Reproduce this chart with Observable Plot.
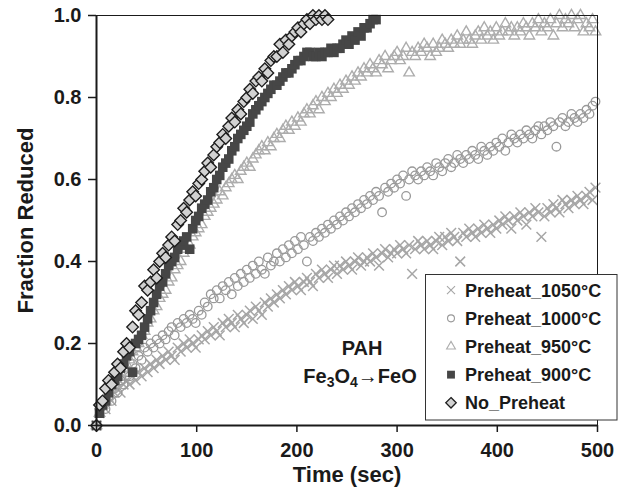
<!DOCTYPE html>
<html><head><meta charset="utf-8">
<script src="https://cdn.jsdelivr.net/npm/d3@7"></script>
<script src="https://cdn.jsdelivr.net/npm/@observablehq/plot@0.6"></script>
<style>
html,body{margin:0;padding:0;background:#fff;}
#chart{width:627px;height:497px;}
</style></head><body><div id="chart"></div>
<script>
// Sampling instants (sec)
const time = [0,3,6,9,12,15,18,21,24,27,
30,33,36,39,42,45,48,51,54,57,
60,63,66,69,72,75,78,81,84,87,
90,93,96,99,102,105,108,111,114,117,
120,123,126,129,132,135,138,141,144,147,
150,153,156,159,162,165,168,171,174,177,
180,183,186,189,192,195,198,201,204,207,
210,213,216,219,222,225,228,231,234,237,
240,243,246,249,252,255,258,261,264,267,
270,273,276,279,282,285,288,291,294,297,
300,303,306,309,312,315,318,321,324,327,
330,333,336,339,342,345,348,351,354,357,
360,363,366,369,372,375,378,381,384,387,
390,393,396,399,402,405,408,411,414,417,
420,423,426,429,432,435,438,441,444,447,
450,453,456,459,462,465,468,471,474,477,
480,483,486,489,492,495,498];

const seriesNames = ["Preheat_1050°C","Preheat_1000°C","Preheat_950°C","Preheat_900°C","No_Preheat"];

const preheat1050 = [0.00,0.03,0.05,0.04,0.07,0.06,0.08,0.09,0.08,0.10,
0.11,0.10,0.12,0.11,0.13,0.12,0.14,0.13,0.15,0.14,
0.16,0.15,0.17,0.16,0.18,0.17,0.16,0.19,0.18,0.20,
0.19,0.21,0.20,0.19,0.21,0.22,0.21,0.23,0.22,0.24,
0.23,0.22,0.25,0.24,0.26,0.25,0.24,0.27,0.26,0.25,
0.27,0.28,0.26,0.29,0.28,0.27,0.30,0.29,0.31,0.30,
0.32,0.31,0.33,0.32,0.34,0.33,0.35,0.34,0.33,0.35,
0.36,0.35,0.34,0.37,0.36,0.38,0.37,0.36,0.38,0.39,
0.37,0.39,0.38,0.40,0.39,0.38,0.40,0.41,0.39,0.40,
0.41,0.40,0.42,0.41,0.39,0.42,0.43,0.41,0.42,0.43,
0.42,0.44,0.43,0.42,0.44,0.37,0.43,0.45,0.44,0.43,
0.45,0.44,0.43,0.45,0.46,0.44,0.46,0.45,0.47,0.46,
0.45,0.40,0.47,0.46,0.48,0.47,0.46,0.48,0.47,0.49,
0.48,0.47,0.49,0.48,0.50,0.49,0.51,0.50,0.48,0.51,
0.50,0.52,0.51,0.49,0.52,0.51,0.53,0.52,0.46,0.51,
0.53,0.52,0.54,0.53,0.52,0.55,0.54,0.53,0.55,0.54,
0.56,0.55,0.54,0.56,0.57,0.55,0.58];

const preheat1000 = [0.00,0.04,0.05,0.04,0.07,0.06,0.09,0.08,0.11,0.10,
0.13,0.12,0.15,0.14,0.17,0.16,0.19,0.18,0.20,0.19,
0.21,0.20,0.22,0.21,0.23,0.24,0.22,0.25,0.24,0.26,
0.25,0.27,0.26,0.25,0.28,0.27,0.30,0.29,0.32,0.31,
0.33,0.31,0.34,0.33,0.35,0.32,0.36,0.34,0.37,0.35,
0.38,0.36,0.39,0.37,0.40,0.38,0.37,0.41,0.39,0.40,
0.42,0.40,0.43,0.41,0.44,0.42,0.45,0.43,0.46,0.44,
0.40,0.46,0.45,0.47,0.46,0.48,0.47,0.49,0.48,0.50,
0.49,0.51,0.50,0.52,0.51,0.53,0.52,0.54,0.53,0.55,
0.54,0.56,0.55,0.57,0.56,0.52,0.58,0.57,0.59,0.58,
0.60,0.59,0.61,0.56,0.60,0.62,0.61,0.60,0.62,0.61,
0.63,0.62,0.61,0.64,0.63,0.62,0.64,0.65,0.63,0.64,
0.66,0.65,0.64,0.66,0.65,0.67,0.66,0.65,0.68,0.67,
0.66,0.68,0.67,0.69,0.68,0.70,0.67,0.69,0.71,0.70,
0.69,0.71,0.70,0.72,0.71,0.70,0.72,0.73,0.71,0.73,
0.72,0.74,0.73,0.68,0.74,0.75,0.73,0.74,0.76,0.75,
0.74,0.76,0.75,0.77,0.76,0.78,0.79];

const preheat950 = [0.00,0.03,0.05,0.06,0.08,0.09,0.10,0.12,0.13,0.14,
0.15,0.16,0.18,0.19,0.20,0.22,0.23,0.25,0.26,0.28,
0.29,0.31,0.32,0.33,0.35,0.36,0.38,0.39,0.40,0.42,
0.43,0.44,0.46,0.47,0.48,0.49,0.51,0.52,0.53,0.54,
0.55,0.57,0.56,0.58,0.59,0.60,0.61,0.60,0.62,0.63,
0.64,0.63,0.65,0.66,0.67,0.68,0.67,0.69,0.68,0.70,
0.71,0.70,0.72,0.73,0.72,0.74,0.73,0.75,0.74,0.76,
0.77,0.76,0.78,0.79,0.77,0.80,0.79,0.81,0.80,0.82,
0.81,0.83,0.82,0.84,0.83,0.85,0.84,0.86,0.85,0.87,
0.86,0.88,0.87,0.86,0.89,0.88,0.90,0.87,0.89,0.90,
0.91,0.89,0.90,0.92,0.86,0.91,0.90,0.92,0.91,0.93,
0.92,0.90,0.93,0.91,0.92,0.94,0.93,0.92,0.94,0.93,
0.95,0.93,0.94,0.96,0.94,0.93,0.95,0.96,0.94,0.97,
0.95,0.96,0.94,0.97,0.95,0.96,0.98,0.96,0.97,0.95,
0.97,0.96,0.98,0.97,0.95,0.98,0.97,0.99,0.96,0.98,
0.97,0.99,0.95,0.98,1.00,0.97,0.99,0.98,1.00,0.97,
0.99,1.00,0.96,0.98,0.97,0.99,0.96];

const preheat900 = [0.00,0.03,0.05,0.06,0.08,0.10,0.11,0.12,0.14,0.15,
0.17,0.18,0.13,0.20,0.21,0.22,0.24,0.26,0.28,0.30,
0.32,0.34,0.35,0.37,0.39,0.40,0.41,0.43,0.44,0.45,
0.46,0.43,0.48,0.50,0.51,0.53,0.54,0.55,0.57,0.58,
0.60,0.61,0.63,0.64,0.65,0.67,0.68,0.70,0.71,0.72,
0.73,0.74,0.76,0.77,0.78,0.79,0.80,0.81,0.82,0.83,
0.83,0.84,0.85,0.86,0.86,0.87,0.88,0.89,0.89,0.90,
0.91,0.91,0.90,0.90,0.91,0.90,0.91,0.91,0.92,0.91,
0.92,0.92,0.93,0.94,0.93,0.95,0.94,0.96,0.95,0.97,
0.97,0.98,0.99,0.99];

const noPreheat = [0.00,0.05,0.06,0.09,0.11,0.10,0.13,0.15,0.14,0.18,
0.20,0.19,0.24,0.28,0.27,0.30,0.34,0.33,0.35,0.38,
0.36,0.40,0.42,0.41,0.44,0.46,0.45,0.49,0.50,0.53,
0.52,0.55,0.57,0.56,0.59,0.60,0.62,0.64,0.63,0.66,
0.68,0.69,0.71,0.70,0.73,0.75,0.74,0.77,0.76,0.79,
0.80,0.82,0.81,0.84,0.85,0.84,0.87,0.86,0.89,0.90,
0.90,0.93,0.91,0.94,0.93,0.95,0.96,0.97,0.96,0.98,
0.99,0.98,1.00,0.99,1.00,0.99,1.00,0.99];

const xTicks = [0,100,200,300,400,500];
const yTicks = [0,0.2,0.4,0.6,0.8,1.0];
const xLabel = "Time (sec)";
const yLabel = "Fraction Reduced";
const annotations = [
  {t: 265, f: 0.187, label: "PAH"},
  {t: 263, f: 0.120, label: "Fe3O4→FeO"}
];

const rows = (vals, name) => vals.map((v, i) => ({t: time[i], f: v, s: name}));
const d1050 = rows(preheat1050, seriesNames[0]);
const d1000 = rows(preheat1000, seriesNames[1]);
const d950 = rows(preheat950, seriesNames[2]);
const d900 = rows(preheat900, seriesNames[3]);
const dNo = rows(noPreheat, seriesNames[4]);

const FONT = "'Liberation Sans', Arial, Helvetica, sans-serif";
const INK = "#1a1a1a";

const plot = Plot.plot({
  width: 627, height: 497,
  marginLeft: 96, marginRight: 30, marginTop: 15, marginBottom: 72,
  style: {fontFamily: FONT, fontWeight: "bold", color: INK, background: "#fff", overflow: "visible"},
  x: {domain: [0, 500]},
  y: {domain: [0, 1]},
  marks: [
    Plot.dot(d1050, {x: "t", y: "f", symbol: "times", r: 4.5, stroke: "#a6a6a6", strokeWidth: 1.5, fill: "none"}),
    Plot.dot(d1000, {x: "t", y: "f", symbol: "circle", r: 4.3, stroke: "#999999", strokeWidth: 1.3, fill: "none"}),
    Plot.dot(d950, {x: "t", y: "f", symbol: "triangle2", r: 5, stroke: "#adadad", strokeWidth: 1.4, fill: "none"}),
    Plot.dot(d900, {x: "t", y: "f", symbol: "square", r: 5.4, fill: "#464646", stroke: "none"}),
    Plot.dot(dNo, {x: "t", y: "f", symbol: "diamond2", r: 5.2, fill: "#d2d2d2", stroke: "#1e1e1e", strokeWidth: 1.4}),
    Plot.ruleY([1], {stroke: INK, strokeWidth: 1}),
    Plot.ruleX([500], {stroke: INK, strokeWidth: 1}),
    Plot.ruleX([0], {stroke: INK, strokeWidth: 2}),
    Plot.ruleY([0], {stroke: INK, strokeWidth: 2}),
    Plot.axisX({ticks: xTicks, tickSize: 7, tickPadding: 10, label: null, fontSize: 20, fontWeight: "bold", stroke: INK, strokeWidth: 1.5, fill: INK}),
    Plot.axisY({ticks: yTicks, tickFormat: d3.format(".1f"), tickSize: 8, tickPadding: 7, label: null, fontSize: 20, fontWeight: "bold", stroke: INK, strokeWidth: 1.5, fill: INK}),
    Plot.text([xLabel], {frameAnchor: "bottom", lineAnchor: "middle", textAnchor: "middle", dy: 49, fontSize: 22, fontWeight: "bold", fill: INK}),
    Plot.text([yLabel], {frameAnchor: "left", lineAnchor: "middle", textAnchor: "middle", dx: -71, rotate: -90, fontSize: 22, fontWeight: "bold", fill: INK}),
    Plot.text(annotations, {x: "t", y: "f", text: "label", lineAnchor: "middle", fontSize: 20, fontWeight: "bold", fill: INK})
  ]
});
document.getElementById("chart").appendChild(plot);

// subscripts for Fe3O4
const svg = d3.select(plot);
svg.selectAll("text").each(function() {
  if (this.textContent === "Fe3O4→FeO" && this.children.length === 0) {
    const el = d3.select(this);
    el.text(null);
    el.append("tspan").text("Fe");
    el.append("tspan").attr("font-size", 14).attr("dy", 4).text("3");
    el.append("tspan").attr("dy", -4).text("O");
    el.append("tspan").attr("font-size", 14).attr("dy", 4).text("4");
    el.append("tspan").attr("dy", -4).attr("font-weight", "normal").text("→");
    el.append("tspan").text("FeO");
  }
});

// legend
const leg = svg.append("g").attr("font-family", FONT).attr("font-weight", "bold").attr("font-size", 18).attr("text-anchor", "start");
leg.append("rect").attr("x", 425.5).attr("y", 274.5).attr("width", 191.5).attr("height", 145.5)
  .attr("fill", "#fff").attr("stroke", "#333").attr("stroke-width", 1);
const legSym = [
  {type: d3.symbolTimes, size: 44, fill: "none", stroke: "#a6a6a6", sw: 1.1},
  {type: d3.symbolCircle, size: 38, fill: "none", stroke: "#999999", sw: 1.1},
  {type: d3.symbolTriangle2, size: 56, fill: "none", stroke: "#adadad", sw: 1.1},
  {type: d3.symbolSquare, size: 62, fill: "#464646", stroke: "none", sw: 0},
  {type: d3.symbolDiamond2, size: 70, fill: "#d2d2d2", stroke: "#1e1e1e", sw: 1.3}
];
seriesNames.forEach((name, i) => {
  const cy = 290.2 + i * 28.15;
  const s = legSym[i];
  leg.append("path").attr("d", d3.symbol(s.type, s.size)())
    .attr("transform", `translate(451,${cy})`)
    .attr("fill", s.fill).attr("stroke", s.stroke).attr("stroke-width", s.sw);
  leg.append("text").attr("x", 465).attr("y", cy + 6.6).attr("text-anchor", "start").attr("fill", INK).text(name);
});
</script>
</body></html>
